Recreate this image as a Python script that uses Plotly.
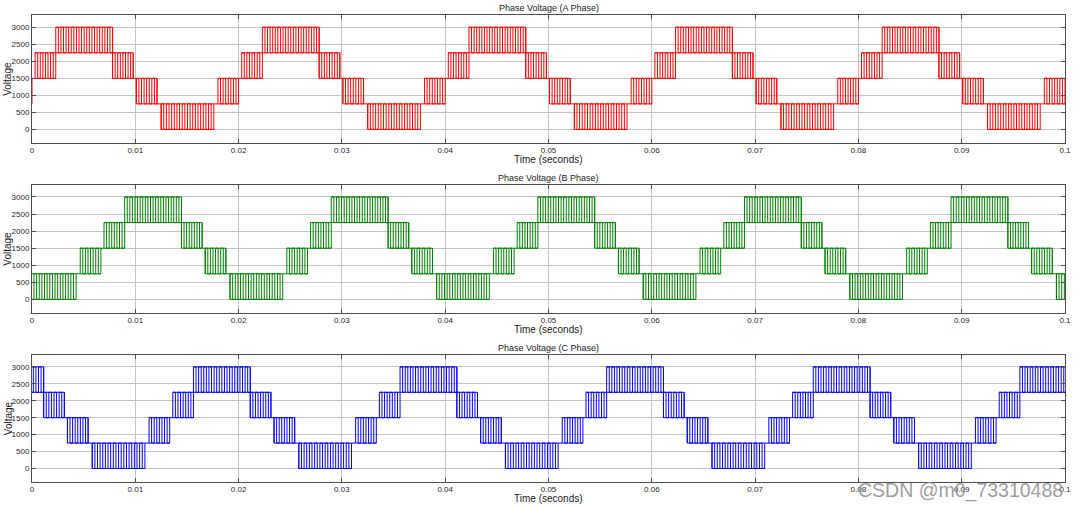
import plotly.graph_objects as go

# ---------------- data ----------------
PERIOD = 0.02          # fundamental period (s)
T_END = 0.1            # simulated time span (s)
CARRIER = 0.0005       # switching (carrier) period read from pulse spacing (s)

# One fundamental period of phase A: segment start / end, lower and upper level
seg_start = [0.0000, 0.0003, 0.0023, 0.0078, 0.0098, 0.0101, 0.0121, 0.0125, 0.0176, 0.0180]
seg_end   = [0.0003, 0.0023, 0.0078, 0.0098, 0.0101, 0.0121, 0.0125, 0.0176, 0.0180, 0.0200]
seg_low   = [1500, 1500, 2250, 1500, 1500, 750, 750, 0, 750, 750]
seg_high  = [1500, 2250, 3000, 2250, 1500, 1500, 750, 750, 750, 1500]

phase_names = ["A", "B", "C"]
phase_delay = [0.0, 0.00667, 0.01333]     # time delay of each phase vs. phase A
phase_colors = ["#ff0000", "#008000", "#0000ff"]

x_tick_vals = [0, 0.01, 0.02, 0.03, 0.04, 0.05, 0.06, 0.07, 0.08, 0.09, 0.1]
x_tick_text = ["0", "0.01", "0.02", "0.03", "0.04", "0.05", "0.06", "0.07", "0.08", "0.09", "0.1"]
y_tick_vals = [0, 500, 1000, 1500, 2000, 2500, 3000]
y_tick_text = ["0", "500", "1000", "1500", "2000", "2500", "3000"]

# ---------------- build waveforms ----------------
def build(delay):
    wx, wy, ex, ey = [], [], [], []
    for k in range(-1, int(T_END / PERIOD) + 1):
        off = k * PERIOD + delay
        for s0, e0, lo, hi in zip(seg_start, seg_end, seg_low, seg_high):
            s, e = s0 + off, e0 + off
            if e < -0.001 or s > T_END + 0.001:
                continue
            if lo == hi:
                wx += [s, e]
                wy += [lo, lo]
                continue
            n = max(1, round((e - s) / CARRIER))
            d = (e - s) / (2 * n)
            level = lo
            wx.append(s); wy.append(level)
            for i in range(2 * n + 1):
                t = s + i * d
                wx.append(t); wy.append(level)
                level = hi if level == lo else lo
                wx.append(t); wy.append(level)
            # band envelope lines
            ex += [s, e, None, s, e, None]
            ey += [lo, lo, None, hi, hi, None]
    return wx, wy, ex, ey

fig = go.Figure()

H = 508.0
panel_px = [(15.0, 142.7), (184.7, 312.7), (354.7, 481.7)]
FONT = "Liberation Sans, Arial, Helvetica, sans-serif"

for i, (name, dly, col) in enumerate(zip(phase_names, phase_delay, phase_colors)):
    wx, wy, ex, ey = build(dly)
    xa = "x" if i == 0 else f"x{i+1}"
    ya = "y" if i == 0 else f"y{i+1}"
    fig.add_trace(go.Scatter(x=wx, y=wy, mode="lines", line=dict(color=col, width=1),
                             xaxis=xa, yaxis=ya, showlegend=False, hoverinfo="skip"))
    fig.add_trace(go.Scatter(x=ex, y=ey, mode="lines", line=dict(color=col, width=1),
                             xaxis=xa, yaxis=ya, showlegend=False, hoverinfo="skip",
                             connectgaps=False))
    top, bot = panel_px[i]
    dom = [1 - bot / H, 1 - top / H]
    axkey = "xaxis" if i == 0 else f"xaxis{i+1}"
    aykey = "yaxis" if i == 0 else f"yaxis{i+1}"
    common = dict(showgrid=True, gridcolor="#c4c4c4", gridwidth=1, zeroline=False,
                  showline=True, linecolor="#4d4d4d", linewidth=1, mirror="ticks",
                  ticks="inside", ticklen=4, tickcolor="#4d4d4d", automargin=False,
                  tickfont=dict(family=FONT, size=8, color="#262626"))
    fig.layout[axkey] = dict(common, domain=[0, 1], anchor=ya, range=[0, T_END],
                             tickvals=x_tick_vals, ticktext=x_tick_text)
    fig.layout[aykey] = dict(common, domain=dom, anchor=xa, range=[-390, 3360],
                             tickvals=y_tick_vals, ticktext=y_tick_text)
    # title, x label, y label
    fig.add_annotation(text=f"Phase Voltage ({name} Phase)", xref="paper", yref="paper",
                       x=0.5, y=1 - (top - 7) / H, xanchor="center", yanchor="middle",
                       showarrow=False, font=dict(family=FONT, size=9, color="#1a1a1a"))
    fig.add_annotation(text="Time (seconds)", xref="paper", yref="paper",
                       x=0.5, y=1 - (bot + 16.5) / H, xanchor="center", yanchor="middle",
                       showarrow=False, font=dict(family=FONT, size=10, color="#1a1a1a"))
    fig.add_annotation(text="Voltage", xref="paper", yref="paper",
                       x=(8 - 32) / 1033, y=1 - ((top + bot) / 2) / H, xanchor="center",
                       yanchor="middle", textangle=-90, showarrow=False,
                       font=dict(family=FONT, size=10, color="#1a1a1a"))

fig.add_annotation(text="CSDN @m0_73310488", xref="paper", yref="paper",
                   x=1.0, y=1 - 490 / H, xanchor="right", yanchor="middle", showarrow=False,
                   font=dict(family=FONT, size=19.5, color="rgba(140,140,140,0.85)"))

fig.update_layout(width=1080, height=508, margin=dict(l=32, r=15, t=0, b=0, autoexpand=False),
                  paper_bgcolor="white", plot_bgcolor="white")

fig.write_html("out.html", config={"displayModeBar": False},
               post_script="document.body.style.margin='0';document.body.style.overflow='hidden';")
